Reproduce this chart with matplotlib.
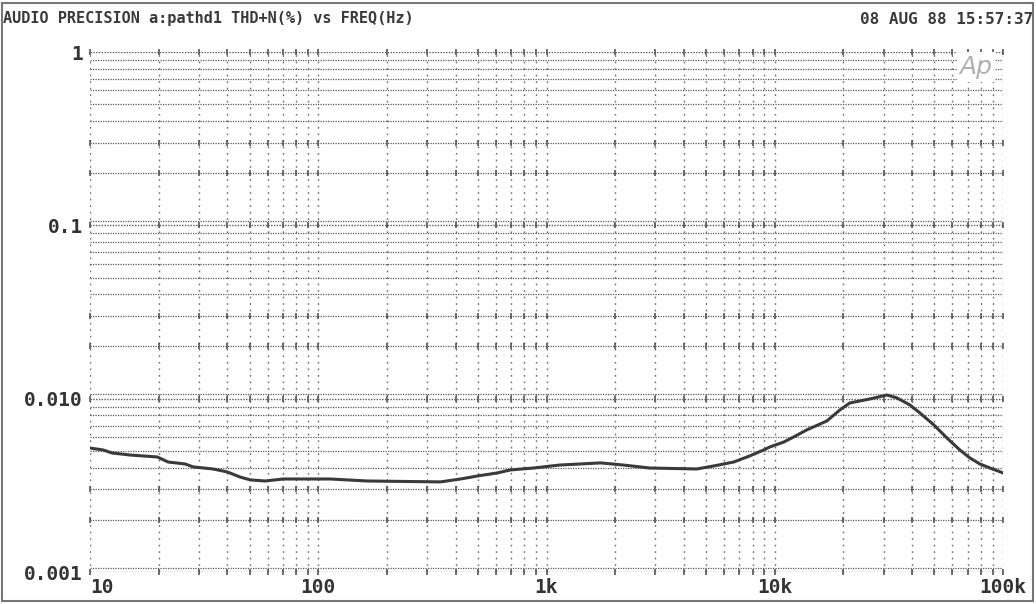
import numpy as np
import matplotlib
matplotlib.use("Agg")
import matplotlib.pyplot as plt
from matplotlib.patches import Rectangle

# THD+N (%) vs frequency (Hz)
freq = [10, 11.4, 12.5, 15.0, 19.7, 22.0, 26.1, 28.3, 34.6, 39.9, 45.5, 50.3,
        58.6, 70.2, 113, 164, 343, 420, 498, 610, 695, 877, 1140, 1726, 2178,
        2833, 4550, 5400, 6610, 7760, 8950, 9500, 10950, 12100, 13800, 16900,
        19300, 21300, 26100, 31000, 34300, 39100, 43300, 49800, 56800, 64700,
        71600, 79200, 87700, 100000]
thdn = [0.00519, 0.00506, 0.00486, 0.00473, 0.00461, 0.00431, 0.00420, 0.00404,
        0.00393, 0.00378, 0.00353, 0.00340, 0.00335, 0.00344, 0.00344, 0.00335,
        0.00331, 0.00344, 0.00358, 0.00373, 0.00388, 0.00398, 0.00414, 0.00426,
        0.00414, 0.00398, 0.00393, 0.00409, 0.00431, 0.00467, 0.00506, 0.00526,
        0.00562, 0.00601, 0.00660, 0.00743, 0.00861, 0.00944, 0.00996, 0.0105,
        0.0101, 0.00920, 0.00826, 0.00705, 0.00593, 0.00506, 0.00455, 0.00420,
        0.00398, 0.00373]

ytick_vals = [0.001, 0.01, 0.1, 1]
ytick_labels = ["0.001", "0.010", "0.1", "1"]
xtick_vals = [10, 100, 1000, 10000, 100000]
xtick_labels = ["10", "100", "1k", "10k", "100k"]

title = "AUDIO PRECISION a:pathd1 THD+N(%) vs FREQ(Hz)"
stamp = "08 AUG 88 15:57:37"

W, H = 1036, 604
fig = plt.figure(figsize=(W / 100, H / 100), dpi=100)
fig.patch.set_facecolor("white")
ax = fig.add_axes([90 / W, 1 - 572 / H, (1003 - 90) / W, (572 - 52) / H])
ax.set_xscale("log")
ax.set_yscale("log")
ax.set_xlim(10, 100000)
ax.set_ylim(0.001, 1)
for s in ax.spines.values():
    s.set_visible(False)

gc = "#5a5a5a"
# grid positions: 1..9 x each decade
xg = [m * 10 ** k for k in range(1, 5) for m in range(1, 10)] + [100000]
yg = [m * 10 ** k for k in range(-3, 0) for m in range(1, 10)] + [1]

for x in xg:
    ax.axvline(x, color="#6a6a6a", lw=1.0, ls=(0, (1.2, 3.5)), zorder=1)
for y in yg:
    m = round(y / 10 ** np.floor(np.log10(y) + 1e-9))
    if m == 1:
        ax.axhline(y, color=gc, lw=1.0, ls=(0, (1, 1)), zorder=1)
        ax.axhline(y * 1.06, color=gc, lw=0.9, ls=(0, (1, 1)), zorder=1)
    else:
        ax.axhline(y, color=gc, lw=0.9, ls=(0, (1, 1)), zorder=1)
    if m in (1, 2, 3):
        ax.plot(xg, [y] * len(xg), ls="none", marker="|", ms=5, mew=1.2,
                color="#555555", zorder=2, clip_on=False)

ax.plot(freq, thdn, color="#3a3a3a", lw=2.2, zorder=3)

ax.set_yticks(ytick_vals)
ax.set_yticklabels(ytick_labels)
ax.set_xticks(xtick_vals)
ax.set_xticklabels(xtick_labels)
ax.minorticks_off()
ax.tick_params(length=0, pad=5, colors="#333333")
for lab in ax.get_yticklabels() + ax.get_xticklabels():
    lab.set_family("DejaVu Sans Mono")
    lab.set_fontsize(14)
    lab.set_weight("bold")
ax.tick_params(axis="x", pad=4)
ax.get_xticklabels()[0].set_horizontalalignment("left")

fig.text(3 / W, 1 - 19 / H, title, ha="left", va="center",
         family="DejaVu Sans Mono", fontsize=11, weight="bold", color="#3a3a3a")
fig.text(1033 / W, 1 - 19 / H, stamp, ha="right", va="center",
         family="DejaVu Sans Mono", fontsize=11.5, weight="bold", color="#3a3a3a")
fig.text(976 / W, 1 - 67 / H, "Ap", ha="center", va="center", fontsize=18,
         style="italic", color="#b0b0b0",
         bbox=dict(facecolor="white", edgecolor="none", pad=2))

fig.patches.append(Rectangle((2 / W, 3 / H), 1031 / W, 598 / H, transform=fig.transFigure,
                             fill=False, edgecolor="#777777", lw=1.5))

fig.savefig("out.png", dpi=100)
